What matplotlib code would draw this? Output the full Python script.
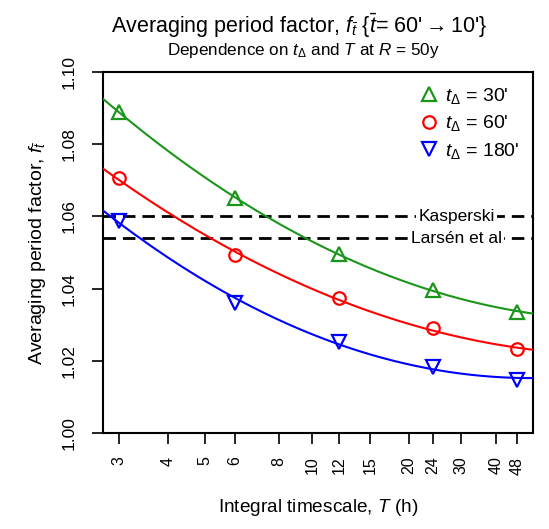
"""Averaging period factor vs integral timescale."""

import matplotlib
matplotlib.use("Agg")
import matplotlib.pyplot as plt
import numpy as np

plt.rcParams["font.family"] = ["Liberation Sans", "DejaVu Sans"]
plt.rcParams["mathtext.fontset"] = "custom"
plt.rcParams["mathtext.rm"] = "Liberation Sans"
plt.rcParams["mathtext.it"] = "Liberation Sans:italic"

# ── Data ─────────────────────────────────────────────────────────────
T_hours = [3, 6, 12, 24, 48]
f_30 = [1.0890, 1.0650, 1.0496, 1.0396, 1.0336]
f_60 = [1.0705, 1.0493, 1.0373, 1.0290, 1.0232]
f_180 = [1.0588, 1.0360, 1.0253, 1.0184, 1.0147]
ref_kasperski = 1.060
ref_larsen = 1.054
x_ticks = [3, 4, 5, 6, 8, 10, 12, 15, 20, 24, 30, 40, 48]
y_ticks = [1.00, 1.02, 1.04, 1.06, 1.08, 1.10]

Q = 0.15


def fwd(t):
    t = np.clip(np.asarray(t, dtype=float), 1e-6, None)
    return -t ** (-Q)


def inv(u):
    u = np.clip(np.asarray(u, dtype=float), None, -1e-6)
    return (-u) ** (-1.0 / Q)


fig = plt.figure(figsize=(5.49, 5.29), dpi=100)
ax = fig.add_axes([103 / 549, 1 - 433 / 529, 430 / 549, 361 / 529])
ax.set_xscale("function", functions=(fwd, inv))
ax.set_xlim(2.742, 55.0)
ax.set_ylim(1.0, 1.10)

series = [
    (f_30, "#1a961a", "^", 10.5, r"$t_\Delta$ = 30'"),
    (f_60, "#ff0000", "o", 9, r"$t_\Delta$ = 60'"),
    (f_180, "#0000ff", "v", 10.5, r"$t_\Delta$ = 180'"),
]

# fitted curves (quadratic in the transformed axis) + markers
xs = np.linspace(2.742, 55.0, 300)
handles = []
for vals, col, mk, ms, lab in series:
    coef = np.polyfit(fwd(T_hours), vals, 2)
    ax.plot(xs, np.polyval(coef, fwd(xs)), color=col, lw=1.5, zorder=3)
    h, = ax.plot(T_hours, vals, ls="none", marker=mk, ms=ms, mfc="none",
                 mec=col, mew=1.6, zorder=4, label=lab)
    handles.append(h)

# reference lines
for yv, txt in [(ref_kasperski, "Kasperski"), (ref_larsen, "Larsén et al")]:
    ax.axhline(yv, color="black", lw=2, ls=(0, (4.5, 2.5)), zorder=2)
    ax.text(29.0, yv, txt, fontsize=12.5, ha="center", va="center", zorder=5,
            bbox=dict(facecolor="white", edgecolor="none", pad=1.5))

leg = ax.legend(handles=handles, loc="upper right", frameon=False,
                fontsize=14, handletextpad=0.2, labelspacing=0.4,
                borderaxespad=0.3, handlelength=1.2)

# axes styling
for s in ax.spines.values():
    s.set_linewidth(1.5)
ax.set_xticks(x_ticks)
ax.set_xticklabels([str(t) for t in x_ticks])
ax.xaxis.set_minor_locator(matplotlib.ticker.NullLocator())
ax.set_yticks(y_ticks)
ax.set_yticklabels([f"{v:.2f}" for v in y_ticks])
ax.tick_params(axis="x", length=8, width=1.2, labelsize=11.5, labelrotation=90, pad=9)
ax.tick_params(axis="y", length=8, width=1.2, labelsize=12.5, labelrotation=90, pad=11)
for lbl in ax.get_yticklabels():
    lbl.set_va("center")

ax.set_xlabel(r"Integral timescale, $T$ (h)", fontsize=13.7, labelpad=16)
ax.set_ylabel(r"Averaging period factor, $f_{\bar{t}}$", fontsize=14, labelpad=10)

fig.text(0.545, 0.951,
         r"Averaging period factor, $f_{\bar{t}}$ {$\bar{t}$= 60'$\rightarrow$10'}",
         fontsize=15.5, ha="center", va="center")
fig.text(0.552, 0.905, r"Dependence on $t_\Delta$ and $T$ at $R$ = 50y",
         fontsize=12.3, ha="center", va="center")

fig.savefig("out.png", dpi=100, facecolor="white")
